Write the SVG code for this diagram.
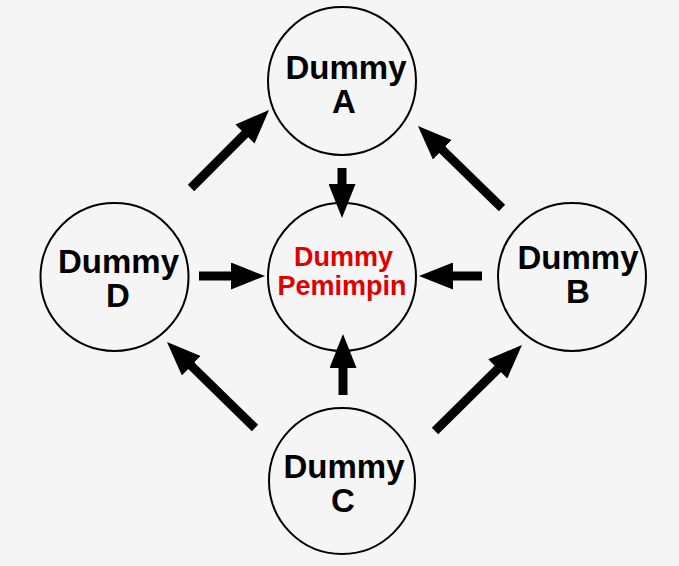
<svg xmlns="http://www.w3.org/2000/svg" width="679" height="566" viewBox="0 0 679 566">
<style>
.node circle{fill:#f5f5f5;stroke:#000;stroke-width:2}
.lbl{font-family:"Liberation Sans",Arial,sans-serif;font-weight:bold;font-size:33px;fill:#000;text-anchor:middle}
.red{font-family:"Liberation Sans",Arial,sans-serif;font-weight:bold;font-size:27px;fill:#e00000;text-anchor:middle}
#connectors line{stroke:#000;stroke-width:9;marker-end:url(#ah)}
</style>
<defs>
<marker id="ah" viewBox="0 0 34 27" markerWidth="34" markerHeight="27" markerUnits="userSpaceOnUse" refX="1" refY="13.5" orient="auto">
<path d="M0,0 L34,13.5 L0,27 z" fill="#000"/>
</marker>
</defs>
<rect width="679" height="566" fill="#f5f5f5"/>
<g id="nodeA" class="node"><circle cx="342" cy="81" r="74"/><text class="lbl" x="346" y="79">Dummy</text><text class="lbl" x="344" y="113">A</text></g>
<g id="nodeD" class="node"><circle cx="114.5" cy="277" r="74"/><text class="lbl" x="118.5" y="273">Dummy</text><text class="lbl" x="118" y="307">D</text></g>
<g id="nodeB" class="node"><circle cx="572" cy="277" r="74"/><text class="lbl" x="578" y="269">Dummy</text><text class="lbl" x="578" y="303">B</text></g>
<g id="nodeC" class="node"><circle cx="342" cy="481" r="73"/><text class="lbl" x="344" y="478">Dummy</text><text class="lbl" x="343" y="512">C</text></g>
<g id="nodeLeader" class="node"><circle cx="342" cy="277" r="74"/><text class="red" x="343.5" y="266">Dummy</text><text class="red" x="342" y="295">Pemimpin</text></g>
<g id="connectors">
<line x1="191" y1="188" x2="245.7" y2="133.3"/>
<line x1="502" y1="208" x2="441.6" y2="149.1"/>
<line x1="342" y1="168" x2="342" y2="185"/>
<line x1="199" y1="276" x2="232" y2="276"/>
<line x1="482" y1="276" x2="452" y2="276"/>
<line x1="343" y1="395" x2="343" y2="367"/>
<line x1="255" y1="428" x2="190.6" y2="365.1"/>
<line x1="435" y1="431" x2="498.5" y2="368.2"/>
</g>
</svg>
